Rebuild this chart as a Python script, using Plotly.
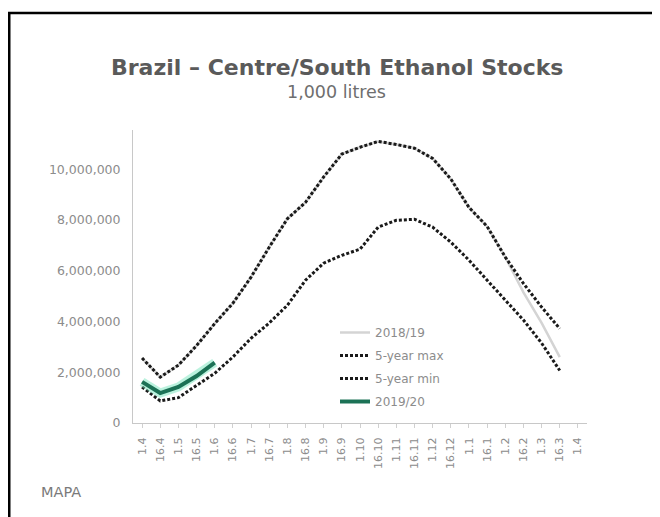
import plotly.graph_objects as go

periods = ["1.4", "16.4", "1.5", "16.5", "1.6", "16.6", "1.7", "16.7", "1.8", "16.8",
           "1.9", "16.9", "1.10", "16.10", "1.11", "16.11", "1.12", "16.12", "1.1", "16.1",
           "1.2", "16.2", "1.3", "16.3", "1.4"]

max_5yr = [2.56e6, 1.81e6, 2.28e6, 3.05e6, 3.92e6, 4.72e6, 5.75e6, 6.93e6, 8.05e6, 8.7e6,
           9.7e6, 10.6e6, 10.87e6, 11.1e6, 10.98e6, 10.83e6, 10.43e6, 9.62e6, 8.5e6, 7.75e6,
           6.54e6, 5.5e6, 4.57e6, 3.72e6]
min_5yr = [1.42e6, 0.87e6, 1.0e6, 1.49e6, 1.96e6, 2.6e6, 3.34e6, 3.94e6, 4.64e6, 5.63e6,
           6.3e6, 6.61e6, 6.85e6, 7.72e6, 7.99e6, 8.03e6, 7.72e6, 7.13e6, 6.42e6, 5.63e6,
           4.84e6, 4.06e6, 3.15e6, 2.07e6]
s2018 = [2.56e6, 1.81e6, 2.28e6, 3.05e6, 3.92e6, 4.72e6, 5.75e6, 6.93e6, 8.05e6, 8.7e6,
         9.7e6, 10.6e6, 10.87e6, 11.1e6, 10.98e6, 10.83e6, 10.43e6, 9.62e6, 8.5e6, 7.75e6,
         6.54e6, 5.15e6, 3.95e6, 2.6e6]
s2019 = [1.62e6, 1.18e6, 1.42e6, 1.85e6, 2.38e6]

x_all = list(range(len(periods)))

def xs(vals):
    return x_all[:len(vals)]

grey_txt = "#8c8c8c"
fig = go.Figure()

fig.add_trace(go.Scatter(x=xs(s2018), y=s2018, mode="lines", name="2018/19",
                         line=dict(color="#d4d4d4", width=2.5), legendgroup="a"))
fig.add_trace(go.Scatter(x=xs(max_5yr), y=max_5yr, mode="lines", name="5-year max",
                         line=dict(color="#1a1a1a", width=3, dash="3px,2px"), legendgroup="b"))
fig.add_trace(go.Scatter(x=xs(min_5yr), y=min_5yr, mode="lines", name="5-year min",
                         line=dict(color="#1a1a1a", width=3, dash="3px,2px"), legendgroup="c"))
fig.add_trace(go.Scatter(x=xs(s2019), y=s2019, mode="lines", showlegend=False,
                         line=dict(color="rgba(120,230,190,0.5)", width=9), hoverinfo="skip"))
fig.add_trace(go.Scatter(x=xs(s2019), y=s2019, mode="lines", name="2019/20",
                         line=dict(color="#1c7256", width=4), legendgroup="d"))

# page body has an 8px margin: figure coords = screen coords - 8
OFF = 8
W, H = 660, 517
L, R, T, B = 133 - OFF, 587 - OFF, 130 - OFF, 423 - OFF

def px(X):
    return (X - OFF - L) / (R - L)

def py(Y):
    return (B - (Y - OFF)) / (B - T)

fig.update_layout(
    width=W, height=H,
    margin=dict(l=L, r=W - R, t=T, b=H - B),
    paper_bgcolor="white", plot_bgcolor="white",
    font=dict(family="DejaVu Sans", color=grey_txt),
    showlegend=True,
    legend=dict(x=px(335), y=py(318), xanchor="left", yanchor="top",
                bgcolor="rgba(0,0,0,0)", font=dict(size=12, color=grey_txt),
                traceorder="grouped", tracegroupgap=4),
    xaxis=dict(range=[-0.5, len(periods) - 0.5], tickvals=x_all, ticktext=periods,
               tickangle=-90, showgrid=False, zeroline=False,
               showline=True, linecolor="#c8c8c8", linewidth=1,
               ticks="outside", ticklen=4, tickcolor="#d0d0d0", ticklabelstandoff=5,
               tickfont=dict(size=11, color=grey_txt)),
    yaxis=dict(range=[0, 11.55e6], tickvals=[0, 2e6, 4e6, 6e6, 8e6, 10e6], tickformat=",d",
               showgrid=False, zeroline=False, showline=True, linecolor="#c8c8c8",
               linewidth=1, ticks="", ticklabelstandoff=9,
               tickfont=dict(size=12.5, color=grey_txt)),
    annotations=[
        dict(text="<b>Brazil – Centre/South Ethanol Stocks</b>", x=px(337), y=py(68),
             xref="paper", yref="paper", showarrow=False, xanchor="center", yanchor="middle",
             font=dict(size=22, color="#5a5a5a", family="DejaVu Sans")),
        dict(text="1,000 litres", x=px(336), y=py(92), xref="paper", yref="paper",
             showarrow=False, xanchor="center", yanchor="middle",
             font=dict(size=17.5, color="#6e6e6e", family="DejaVu Sans")),
        dict(text="MAPA", x=px(39), y=py(492), xref="paper", yref="paper",
             showarrow=False, xanchor="left", yanchor="middle",
             font=dict(size=14.5, color="#7a7a7a", family="DejaVu Sans")),
    ],
    shapes=[
        dict(type="line", xref="paper", yref="paper", x0=px(9), x1=px(9), y0=py(13), y1=py(540),
             line=dict(color="black", width=3)),
        dict(type="line", xref="paper", yref="paper", x0=px(8), x1=px(654), y0=py(13), y1=py(13),
             line=dict(color="black", width=2.5)),
        dict(type="line", xref="paper", yref="paper", x0=px(653), x1=px(653), y0=py(13), y1=py(540),
             line=dict(color="#dcdcdc", width=1)),
    ],
)

fig.write_html("out.html")
